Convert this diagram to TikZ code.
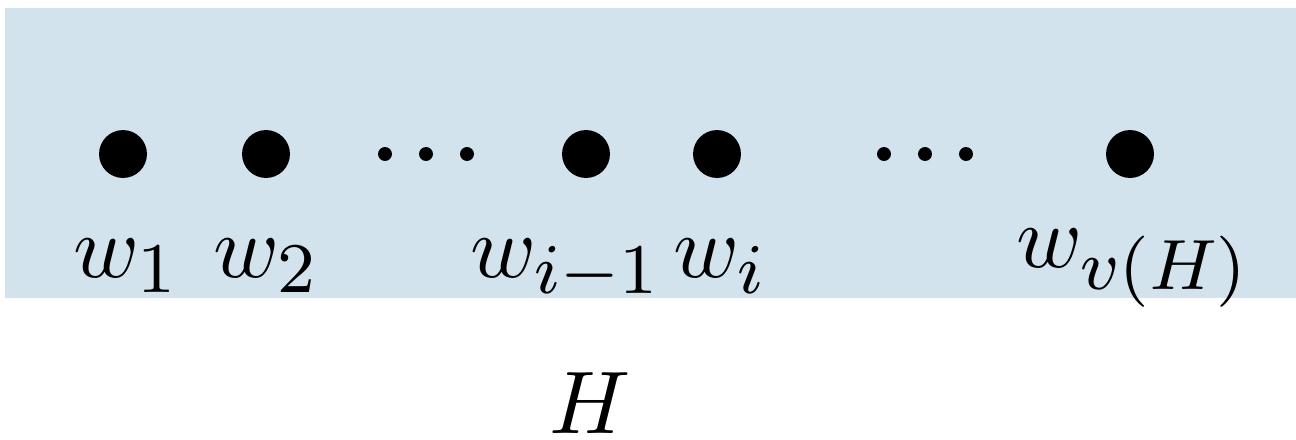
\documentclass[tikz,border=0pt]{standalone}
\DeclareMathSizes{10}{10}{8}{6}
\definecolor{panelblue}{RGB}{210,227,237}
\begin{document}
\begin{tikzpicture}[x=0.2796pt,y=-0.2796pt,
  vertex/.style={circle,fill=black,inner sep=0pt,minimum size=13.4pt},
  dotsmall/.style={circle,fill=black,inner sep=0pt,minimum size=3.9pt},
  lab/.style={anchor=base west,inner sep=0pt,font=\normalsize,scale=2.488}]
\useasboundingbox (0,0) rectangle (1296,439);
\fill[panelblue] (5,8) rectangle (1296,298);
% vertices
\node[vertex] (w1) at (123,154) {};
\node[vertex] (w2) at (266,154) {};
\node[vertex] (wim1) at (586,154) {};
\node[vertex] (wi) at (717,154) {};
\node[vertex] (wv) at (1130,154) {};
% ellipses
\node[dotsmall] (e1) at (385,154) {};
\node[dotsmall] (e2) at (426,154) {};
\node[dotsmall] (e3) at (467,154) {};
\node[dotsmall] (f1) at (884,154) {};
\node[dotsmall] (f2) at (925,154) {};
\node[dotsmall] (f3) at (966,154) {};
% labels
\node[lab] (l1) at (72,277) {$w_1$};
\node[lab] (l2) at (212,277) {$w_2$};
\node[lab] (lim1) at (469,277) {$w_{i-1}$};
\node[lab] (li) at (672,277) {$w_i$};
\node[lab] (lv) at (1015,267) {$w_{v(H)}$};
\node[anchor=base,inner sep=0pt,font=\normalsize,scale=2.488] (H) at (590,433) {$H$};
\end{tikzpicture}
\end{document}
